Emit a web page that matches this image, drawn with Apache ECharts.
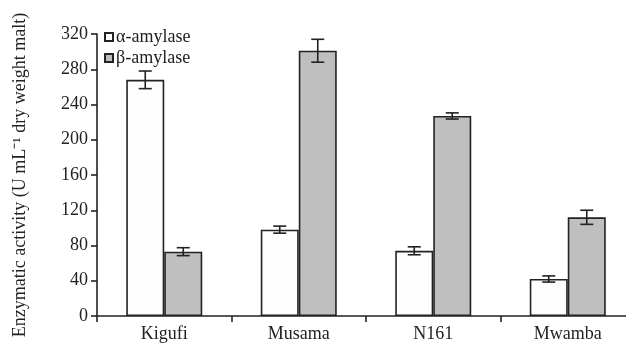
<!DOCTYPE html>
<html><head><meta charset="utf-8">
<script src="https://cdn.jsdelivr.net/npm/echarts@6/dist/echarts.min.js"></script>
<style>html,body{margin:0;padding:0;background:#fff}#c{width:626px;height:348px}</style>
</head><body><div id="c"></div>
<script>
var categories = ['Kigufi', 'Musama', 'N161', 'Mwamba'];
var alphaValues = [268, 98, 74, 42];
var alphaErrors = [10, 4, 4.5, 3.5];
var betaValues = [73, 301, 227, 112];
var betaErrors = [4.5, 13, 3.5, 8];
var yTicks = [0, 40, 80, 120, 160, 200, 240, 280, 320];

var BAR_W = 38;
var FONT = '"Liberation Serif", "Times New Roman", serif';

function errSeries(vals, errs, offset) {
  return {
    type: 'custom',
    silent: true,
    z: 5,
    data: vals.map(function (v, i) { return [i, v, errs[i]]; }),
    encode: { x: 0, y: 1 },
    renderItem: function (params, api) {
      var i = api.value(0), v = api.value(1), e = api.value(2);
      var top = api.coord([i, v + e]);
      var bot = api.coord([i, v - e]);
      var x = top[0] + offset;
      var cap = 6.5;
      var st = { stroke: '#222', lineWidth: 1.6 };
      return {
        type: 'group',
        children: [
          { type: 'line', shape: { x1: x, y1: top[1], x2: x, y2: bot[1] }, style: st },
          { type: 'line', shape: { x1: x - cap, y1: top[1], x2: x + cap, y2: top[1] }, style: st },
          { type: 'line', shape: { x1: x - cap, y1: bot[1], x2: x + cap, y2: bot[1] }, style: st }
        ]
      };
    }
  };
}

var chart = echarts.init(document.getElementById('c'), null, { renderer: 'canvas' });
chart.setOption({
  animation: false,
  backgroundColor: '#ffffff',
  textStyle: { fontFamily: FONT },
  grid: { left: 97, top: 34, width: 538, height: 282, containLabel: false, outerBoundsMode: 'none' },
  legend: {
    orient: 'vertical',
    left: 99,
    top: 23,
    itemWidth: 8,
    itemHeight: 8,
    itemGap: 3,
    icon: 'rect',
    textStyle: { fontFamily: FONT, fontSize: 18, color: '#222', padding: [0, 0, 0, -2] },
    data: ['α-amylase', 'β-amylase']
  },
  xAxis: {
    type: 'category',
    data: categories,
    boundaryGap: true,
    axisLine: { lineStyle: { color: '#222', width: 1.6 } },
    axisTick: { show: true, alignWithLabel: false, length: 6, lineStyle: { color: '#222', width: 1.6 } },
    axisLabel: { fontFamily: FONT, fontSize: 18, color: '#222', margin: 9 },
    splitLine: { show: false }
  },
  yAxis: {
    type: 'value',
    min: yTicks[0],
    max: yTicks[yTicks.length - 1],
    interval: yTicks[1] - yTicks[0],
    name: 'Enzymatic activity (U mL⁻¹ dry weight malt)',
    nameLocation: 'middle',
    nameGap: 68,
    nameTextStyle: { fontFamily: FONT, fontSize: 18, color: '#222' },
    axisLine: { show: true, lineStyle: { color: '#222', width: 1.6 } },
    axisTick: { show: true, inside: false, length: 6, lineStyle: { color: '#222', width: 1.6 } },
    axisLabel: { fontFamily: FONT, fontSize: 18, color: '#222', margin: 9 },
    splitLine: { show: false }
  },
  series: [
    {
      name: 'α-amylase',
      type: 'bar',
      data: alphaValues,
      barWidth: BAR_W,
      barGap: '0%',
      itemStyle: { color: '#fdfdfd', borderColor: '#222', borderWidth: 1.6 }
    },
    {
      name: 'β-amylase',
      type: 'bar',
      data: betaValues,
      barWidth: BAR_W,
      barGap: '0%',
      itemStyle: { color: '#bfbfbf', borderColor: '#222', borderWidth: 1.6 }
    },
    errSeries(alphaValues, alphaErrors, -BAR_W / 2),
    errSeries(betaValues, betaErrors, BAR_W / 2)
  ]
});
</script>
</body></html>
